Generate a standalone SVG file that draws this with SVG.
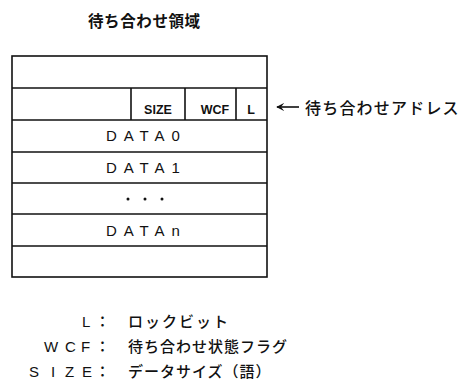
<svg xmlns="http://www.w3.org/2000/svg" width="475" height="382" viewBox="0 0 475 382">
<style>
.jp{font-family:"Noto Sans CJK JP","Noto Sans",sans-serif;fill:#111;}
.lat{font-family:"Liberation Sans","DejaVu Sans",sans-serif;fill:#111;}
.ln{stroke:#111;stroke-width:1.6;fill:none;}
</style>
<defs>
<marker id="ah" viewBox="0 0 10 10" refX="9" refY="5" markerWidth="8" markerHeight="8" orient="auto" markerUnits="userSpaceOnUse">
<path d="M0,0 L10,5 L0,10 L4,5 Z" fill="#111"/>
</marker>
</defs>
<rect width="475" height="382" fill="#fff"/>
<g id="title"><text class="jp" x="88" y="27" font-size="15.5" font-weight="700" letter-spacing="0.6">待ち合わせ領域</text></g>
<g id="area">
<rect class="ln" x="12" y="56" width="255" height="221" stroke-width="2"/>
<line class="ln" x1="12" y1="88" x2="267" y2="88"/>
<line class="ln" x1="12" y1="120" x2="267" y2="120"/>
<line class="ln" x1="12" y1="152" x2="267" y2="152"/>
<line class="ln" x1="12" y1="183" x2="267" y2="183"/>
<line class="ln" x1="12" y1="214" x2="267" y2="214"/>
<line class="ln" x1="12" y1="246" x2="267" y2="246"/>
<line class="ln" x1="131" y1="88" x2="131" y2="120"/>
<line class="ln" x1="185" y1="88" x2="185" y2="120"/>
<line class="ln" x1="236" y1="88" x2="236" y2="120"/>
</g>
<g id="size"><text class="lat" x="158" y="114" font-size="12.5" font-weight="700" text-anchor="middle">SIZE</text></g>
<g id="wcf"><text class="lat" x="215" y="114" font-size="12.5" font-weight="700" text-anchor="middle">WCF</text></g>
<g id="l"><text class="lat" x="251" y="114" font-size="12.5" font-weight="700" text-anchor="middle">L</text></g>
<g id="data0"><text class="lat" x="106" y="141" font-size="15" letter-spacing="6.9">DATA0</text></g>
<g id="data1"><text class="lat" x="106" y="173" font-size="15" letter-spacing="6.9">DATA1</text></g>
<g id="dots"><circle cx="128" cy="199" r="1.5" fill="#111"/><circle cx="145" cy="199" r="1.5" fill="#111"/><circle cx="162" cy="199" r="1.5" fill="#111"/></g>
<g id="datan"><text class="lat" x="106" y="236" font-size="15" letter-spacing="6.9">DATAn</text></g>
<g id="connectors"><line class="ln" x1="299" y1="107" x2="277" y2="107" marker-end="url(#ah)"/></g>
<g id="addr"><text class="jp" x="305" y="114" font-size="16" font-weight="500" letter-spacing="1.2">待ち合わせアドレス</text></g>
<g id="legend">
<text class="lat" y="327" font-size="15" x="82">L</text>
<text class="jp" x="95" y="327" font-size="15" font-weight="500">：</text>
<text class="jp" x="128" y="327" font-size="15" font-weight="500" letter-spacing="2">ロックビット</text>
<text class="lat" y="352" font-size="15" x="44 65 81">WCF</text>
<text class="jp" x="95" y="352" font-size="15" font-weight="500">：</text>
<text class="jp" x="128" y="352" font-size="15" font-weight="500" letter-spacing="1">待ち合わせ状態フラグ</text>
<text class="lat" y="377" font-size="15" x="29 51 65 82">SIZE</text>
<text class="jp" x="95" y="377" font-size="15" font-weight="500">：</text>
<text class="jp" x="128" y="377" font-size="15" font-weight="500" letter-spacing="1">データサイズ（語）</text>
</g>
</svg>
